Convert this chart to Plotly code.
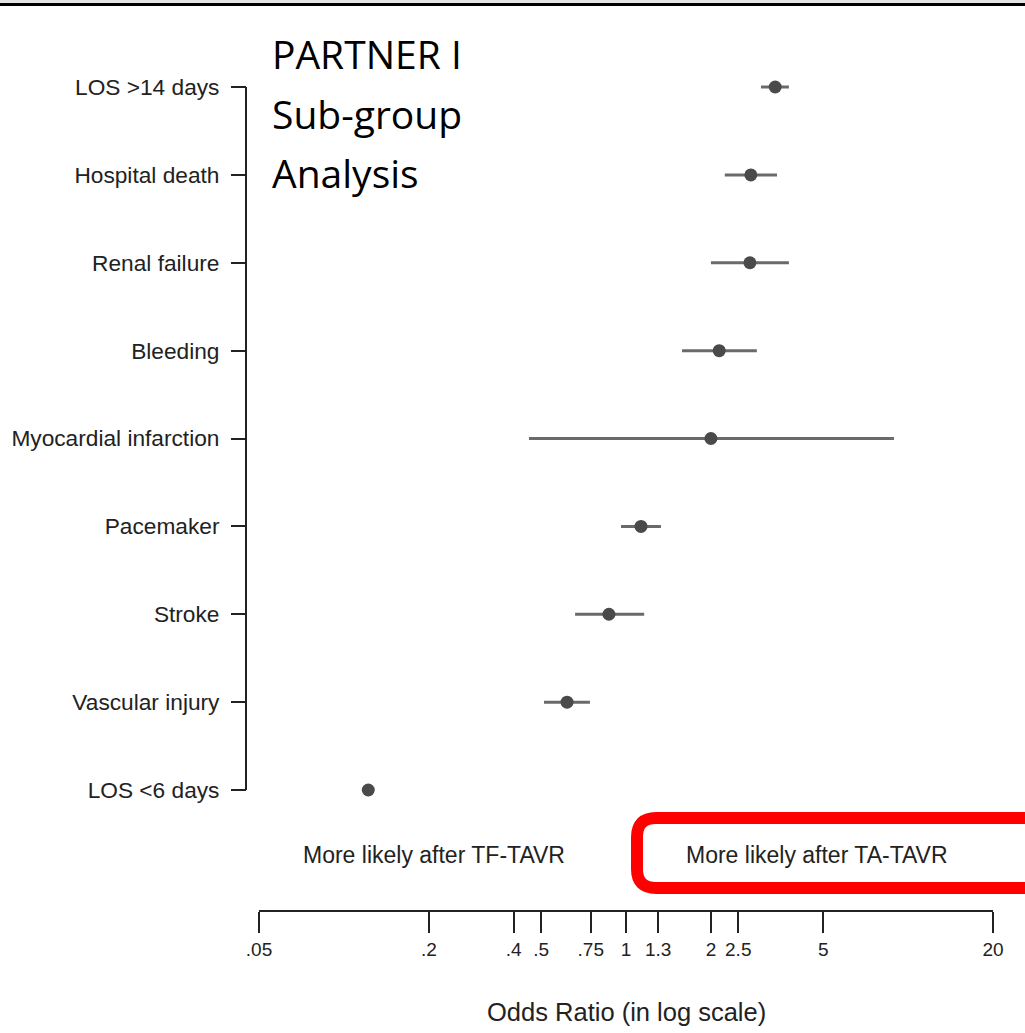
import plotly.graph_objects as go
import math

# ---- data ----
categories = ["LOS >14 days", "Hospital death", "Renal failure", "Bleeding",
              "Myocardial infarction", "Pacemaker", "Stroke", "Vascular injury",
              "LOS <6 days"]
odds_ratio = [3.38, 2.77, 2.75, 2.14, 2.00, 1.13, 0.87, 0.618, 0.122]
ci_low     = [3.01, 2.24, 2.00, 1.58, 0.453, 0.96, 0.66, 0.512, 0.117]
ci_high    = [3.78, 3.43, 3.78, 2.91, 8.91, 1.33, 1.16, 0.745, 0.127]
tick_vals = [0.05, 0.2, 0.4, 0.5, 0.75, 1, 1.3, 2, 2.5, 5, 20]
tick_text = [".05", ".2", ".4", ".5", ".75", "1", "1.3", "2", "2.5", "5", "20"]

W, H = 1025, 1033
ML, MR, MT, MB = 246, 32, 53, 123
PW = W - ML - MR
PH = H - MT - MB

n = len(categories)
ypos = [n - 1 - i for i in range(n)]

def px_x(p):  # pixel x -> paper
    return (p - ML) / PW

def px_y(p):  # pixel y -> paper
    return (H - MB - p) / PH

spacing = 703 / (n - 1)
yr = [-(910 - 790) / spacing, (790 - 53) / spacing]

fig = go.Figure()
fig.add_trace(go.Scatter(
    x=odds_ratio, y=ypos, mode="markers",
    marker=dict(size=13, color="#4a4a4a"),
    error_x=dict(type="data", symmetric=False,
                 array=[h - o for h, o in zip(ci_high, odds_ratio)],
                 arrayminus=[o - l for o, l in zip(odds_ratio, ci_low)],
                 color="#6a6a6a", thickness=3, width=0),
    cliponaxis=False, showlegend=False, hoverinfo="skip"))

axis_font = dict(family="Liberation Sans, Arial", size=19, color="#222")
label_font = dict(family="Liberation Sans, Arial", size=22.7, color="#222")

fig.update_layout(
    width=W, height=H, margin=dict(l=ML, r=MR, t=MT, b=MB),
    paper_bgcolor="white", plot_bgcolor="white",
    xaxis=dict(type="log", range=[math.log10(0.05), math.log10(20)],
               domain=[13 / PW, 1],
               tickvals=tick_vals, ticktext=tick_text,
               ticks="outside", ticklen=21, tickwidth=2, tickcolor="#222",
               showline=True, linecolor="#222", linewidth=2,
               showgrid=False, zeroline=False, tickfont=axis_font),
    yaxis=dict(range=yr, anchor="free", position=0,
               tickvals=ypos, ticktext=categories,
               ticks="outside", ticklen=15, tickwidth=2, tickcolor="#222",
               ticklabelstandoff=7,
               showline=False, showgrid=False, zeroline=False,
               tickfont=label_font),
)

shapes = []
# y axis line spanning only the categories
shapes.append(dict(type="line", xref="paper", yref="y", x0=0, x1=0,
                   y0=ypos[-1], y1=ypos[0], line=dict(color="#222", width=2)))
# reference line at OR = 1
shapes.append(dict(type="line", xref="x", yref="paper", x0=0, x1=0, y0=0, y1=1,
                   line=dict(color="black", width=3.5)))
# top border
shapes.append(dict(type="rect", xref="paper", yref="paper", x0=px_x(-5), x1=px_x(1030),
                   y0=px_y(3), y1=px_y(-5), fillcolor="#e4e4e4", line=dict(width=0)))
shapes.append(dict(type="line", xref="paper", yref="paper", x0=px_x(-5), x1=px_x(1030),
                   y0=px_y(4.5), y1=px_y(4.5), line=dict(color="black", width=3)))
# red rounded box
L, T, B, R = px_x(637), px_y(818), px_y(888), px_x(1060)
rx, ry = 19 / PW, 19 / PH
path = (f"M {R},{T} L {L + rx},{T} Q {L},{T} {L},{T - ry} "
        f"L {L},{B + ry} Q {L},{B} {L + rx},{B} L {R},{B}")
shapes.append(dict(type="path", xref="paper", yref="paper", path=path,
                   line=dict(color="#ff0000", width=12)))
fig.update_layout(shapes=shapes)

ann = []
ann.append(dict(text="More likely after TF-TAVR", xref="paper", yref="paper",
                x=px_x(434), y=px_y(855), showarrow=False, xanchor="center", yanchor="middle",
                font=dict(family="Liberation Sans, Arial", size=23, color="#222")))
ann.append(dict(text="More likely after TA-TAVR", xref="paper", yref="paper",
                x=px_x(817), y=px_y(855), showarrow=False, xanchor="center", yanchor="middle",
                font=dict(family="Liberation Sans, Arial", size=23, color="#222")))
ann.append(dict(text="Odds Ratio (in log scale)", xref="paper", yref="paper",
                x=px_x(626), y=px_y(1012), showarrow=False, xanchor="center", yanchor="middle",
                font=dict(family="Liberation Sans, Arial", size=25.5, color="#222")))
for txt, cy in zip(["PARTNER I", "Sub-group", "Analysis"], [53, 113, 172]):
    ann.append(dict(text=txt, xref="paper", yref="paper", x=px_x(270), y=px_y(cy),
                    showarrow=False, xanchor="left", yanchor="middle",
                    font=dict(family="Open Sans, Noto Sans", size=39, color="black")))
fig.update_layout(annotations=ann)

fig.write_html("out.html", config={"displayModeBar": False},
               post_script="document.body.style.margin='0px';")
